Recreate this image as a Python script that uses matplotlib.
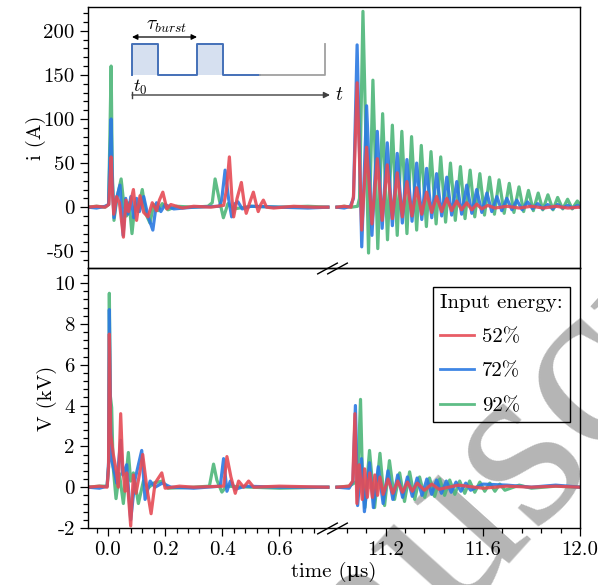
import numpy as np
import matplotlib
matplotlib.use('Agg')
import matplotlib.pyplot as plt
from matplotlib.ticker import FixedLocator, FormatStrFormatter, MultipleLocator

plt.rcParams['font.family'] = ['cmr10', 'DejaVu Serif']
plt.rcParams['mathtext.fontset'] = 'cm'
plt.rcParams['axes.unicode_minus'] = False

# ---- current, first burst window (us, A)
t_i_left_green = [-0.07, -0.04, -0.01, 0.002, 0.006, 0.011, 0.015, 0.021, 0.03, 0.046, 0.056, 0.065, 0.074,
                  0.084, 0.095, 0.105, 0.12, 0.133, 0.147, 0.16, 0.175, 0.19, 0.21, 0.24, 0.3, 0.35, 0.365,
                  0.375, 0.39, 0.404, 0.42, 0.44, 0.5, 0.6, 0.7, 0.77]
i_left_green = [0, 1, 0, 3, 70, 160, 40, -15, 8, 32, 2, -10, 5,
                -30, 5, -5, 20, -8, -18, 3, -4, 4, -3, 1, 0, 1, 5,
                32, 8, -12, 4, -2, 1, 0, 1, 0]
t_i_left_blue = [-0.07, -0.04, -0.01, 0.002, 0.006, 0.011, 0.015, 0.021, 0.03, 0.042, 0.053, 0.062, 0.07,
                 0.08, 0.09, 0.1, 0.11, 0.125, 0.14, 0.157, 0.17, 0.185, 0.2, 0.23, 0.3, 0.39, 0.398,
                 0.41, 0.422, 0.433, 0.445, 0.455, 0.47, 0.5, 0.6, 0.7, 0.77]
i_left_blue = [0, -1, 1, 3, 50, 100, 30, -12, 10, 25, -32, 10, -8,
               12, -12, 10, -5, 12, -10, -26, 5, -5, 3, -2, 0, 1, 8,
               42, 10, -11, 4, 6, -2, 1, 0, -1, 0]
t_i_left_red = [-0.07, -0.04, -0.01, 0.003, 0.007, 0.011, 0.015, 0.02, 0.03, 0.04, 0.054, 0.063, 0.072,
                0.089, 0.1, 0.112, 0.125, 0.14, 0.155, 0.17, 0.18, 0.192, 0.206, 0.22, 0.26, 0.3, 0.36,
                0.405, 0.415, 0.425, 0.434, 0.44, 0.452, 0.467, 0.478, 0.484, 0.495, 0.509, 0.52, 0.526,
                0.535, 0.544, 0.555, 0.58, 0.65, 0.72, 0.77]
i_left_red = [0, 1, 0, 3, 30, 57, 20, -8, 12, 5, -34, 8, -5,
              20, -15, 13, -6, -11, 5, -4, 8, 17, -2, 3, -1, 1, 0,
              2, 20, 57, 10, -11, 10, 28, 2, -7, 4, 17, 2, -5,
              3, 8, 0, -1, 1, 0, 0]

# ---- current, second window (us, A)
t_i_right_green = [11.0, 11.03, 11.06, 11.085, 11.093, 11.107, 11.130, 11.148, 11.168, 11.188, 11.208, 11.228,
                   11.248, 11.267, 11.288, 11.307, 11.328, 11.347, 11.368, 11.387, 11.408, 11.427, 11.447,
                   11.467, 11.487, 11.508, 11.527, 11.548, 11.567, 11.588, 11.607, 11.628, 11.648, 11.667,
                   11.688, 11.709, 11.728, 11.749, 11.768, 11.788, 11.808, 11.828, 11.847, 11.868, 11.889,
                   11.908, 11.929, 11.949, 11.968, 11.989, 12.0]
i_right_green = [0, 1, 0, 1, 10, 222, -52, 144, -47, 106, -37, 93,
                 -32, 86, -30, 80, -26, 70, -22, 63, -19, 57, -17,
                 50, -15, 46, -13, 42, -11, 38, -9, 34, -8, 31,
                 -7, 27, -6, 23, -5, 19, -4, 16, -3, 14, -3,
                 11, -2, 9, -2, 7, 3]
t_i_right_blue = [11.0, 11.03, 11.055, 11.068, 11.083, 11.102, 11.122, 11.144, 11.166, 11.186, 11.207, 11.228,
                  11.248, 11.269, 11.288, 11.309, 11.328, 11.349, 11.369, 11.390, 11.410, 11.431, 11.452,
                  11.472, 11.493, 11.513, 11.534, 11.555, 11.575, 11.596, 11.617, 11.637, 11.658, 11.678,
                  11.699, 11.720, 11.740, 11.762, 11.784, 11.805, 11.826, 11.846, 11.867, 11.887, 11.908,
                  11.929, 11.949, 11.970, 11.990, 12.0]
i_right_blue = [0, -1, 1, 10, 184, -45, 115, -32, 86, -24, 73, -21,
                61, -18, 54, -16, 50, -14, 44, -12, 38, -10, 34,
                -9, 29, -8, 25, -7, 20, -6, 16, -5, 12, -4,
                10, -3, 8, -3, 6, -2, 4, -2, 3, -2, 3,
                -1, 2, -1, 2, 0]
t_i_right_red = [11.0, 11.03, 11.058, 11.068, 11.083, 11.102, 11.122, 11.144, 11.166, 11.186, 11.207, 11.228,
                 11.248, 11.269, 11.288, 11.309, 11.328, 11.349, 11.369, 11.390, 11.410, 11.431, 11.452,
                 11.472, 11.493, 11.513, 11.534, 11.555, 11.575, 11.596, 11.62, 11.65, 11.7, 11.75, 11.8,
                 11.85, 11.9, 11.95, 12.0]
i_right_red = [0, 1, 0, 12, 141, -26, 68, -19, 55, -15, 48, -13,
               39, -11, 29, -10, 22, -8, 17, -6, 12, -5, 10,
               -4, 7, -3, 5, -3, 3.5, -2, 2, -1, 1, -1, 1,
               -1, 1, -1, 0]

# ---- voltage, first burst window (us, kV)
t_v_left_green = [-0.07, -0.03, -0.003, 0.002, 0.0047, 0.008, 0.0129, 0.018, 0.0281, 0.0398, 0.0538, 0.0713,
                  0.0795, 0.0889, 0.1064, 0.124, 0.14, 0.16, 0.19, 0.21, 0.3, 0.355, 0.3696, 0.3813, 0.3988,
                  0.415, 0.5, 0.6, 0.77]
v_left_green = [0, 0.05, 0.05, 1.0, 9.5, 4.5, 3.9, 1.0, -0.56, 0.67, -0.8, 1.7,
                0.3, 0.7, -0.8, 0.3, -0.05, 0.2, 0.3, -0.05, 0.0, 0.05, 1.13, 0.34, -0.24,
                0.05, 0.0, -0.05, 0.0]
t_v_left_blue = [-0.07, -0.03, -0.003, 0.002, 0.0047, 0.009, 0.0129, 0.0246, 0.0304, 0.0444, 0.0515, 0.0655,
                 0.0795, 0.095, 0.1181, 0.1298, 0.1474, 0.165, 0.19, 0.22, 0.3, 0.393, 0.4047, 0.4164,
                 0.4281, 0.4456, 0.48, 0.6, 0.77]
v_left_blue = [0, -0.05, 0.05, 1.2, 8.7, 3.0, 1.3, 0.6, 0.2, 2.3, 0.6, 1.1,
               -1.6, 0.4, 1.8, -0.6, 0.3, 0.0, 0.2, 0.0, -0.05, 0.05, 1.4, -0.2,
               0.3, -0.1, 0.05, 0.0, 0.0]
t_v_left_red = [-0.07, -0.03, -0.003, 0.002, 0.0047, 0.0094, 0.0187, 0.0304, 0.0363, 0.0444, 0.0515, 0.0596,
                0.0655, 0.0795, 0.0889, 0.0982, 0.1123, 0.1216, 0.1357, 0.1509, 0.1649, 0.1883, 0.2, 0.25,
                0.3, 0.405, 0.4164, 0.4304, 0.4456, 0.4573, 0.4749, 0.4924, 0.51, 0.6, 0.77]
v_left_red = [0, 0.05, 0.0, 1.0, 7.5, 2.6, 1.6, 0.67, 0.0, 3.6, 1.0, -0.2,
              0.7, -1.9, 0.6, -0.3, 0.8, 1.6, 0.0, -1.3, 0.2, 0.7, -0.05, 0.05,
              0.0, 0.05, 1.5, 0.5, -0.3, 0.3, 0.0, 0.3, 0.0, 0.05, 0.0]

# ---- voltage, second window (us, kV)
t_v_right_green = [11.0, 11.05, 11.085, 11.097, 11.105, 11.115, 11.134, 11.155, 11.177, 11.196, 11.216, 11.237,
                   11.258, 11.278, 11.299, 11.320, 11.340, 11.361, 11.381, 11.402, 11.423, 11.443, 11.464,
                   11.485, 11.505, 11.526, 11.546, 11.567, 11.588, 11.608, 11.629, 11.650, 11.670, 11.691,
                   11.75, 11.8, 11.9, 12.0]
v_right_green = [0, 0.05, 0.3, 4.3, 0.5, -1.0, 1.8, -1.0, 1.66, -0.9, 1.3, -0.6,
                 0.7, -0.7, 0.75, -0.6, 0.5, -0.5, 0.45, -0.45, 0.4, -0.4, 0.35,
                 -0.35, 0.3, -0.3, 0.3, -0.25, 0.25, -0.2, 0.2, -0.2, 0.15, -0.15,
                 0.1, -0.05, 0.05, 0.0]
t_v_right_blue = [11.0, 11.05, 11.066, 11.076, 11.085, 11.101, 11.113, 11.134, 11.15, 11.17, 11.19, 11.21,
                  11.23, 11.25, 11.27, 11.29, 11.31, 11.33, 11.35, 11.37, 11.39, 11.41, 11.43, 11.45,
                  11.47, 11.49, 11.51, 11.53, 11.55, 11.6, 11.7, 11.8, 11.9, 12.0]
v_right_blue = [0, -0.05, 0.3, 4.0, -0.9, 1.4, -1.2, 1.2, -1.0, 1.0, -0.8, 0.8,
                -0.6, 0.6, -0.5, 0.5, -0.45, 0.45, -0.4, 0.4, -0.35, 0.35, -0.3, 0.3,
                -0.25, 0.25, -0.2, 0.2, -0.15, 0.15, 0.1, 0.0, 0.1, 0.0]
t_v_right_red = [11.0, 11.05, 11.065, 11.074, 11.082, 11.092, 11.104, 11.114, 11.125, 11.135, 11.146, 11.156,
                 11.167, 11.177, 11.19, 11.21, 11.23, 11.25, 11.27, 11.29, 11.31, 11.33, 11.36, 11.39,
                 11.42, 11.5, 11.6, 11.7, 11.8, 11.9, 12.0]
v_right_red = [0, 0.05, 0.3, 3.6, -0.8, 1.1, -0.6, 0.9, -0.5, 0.7, -0.5, 0.6,
               -0.4, 0.5, -0.35, 0.4, -0.3, 0.3, -0.25, 0.25, -0.2, 0.2, -0.15, 0.15,
               -0.1, 0.1, -0.05, 0.05, 0.0, 0.05, 0.0]

energy_labels = ['52%', '72%', '92%']
colors = {'52%': '#e64b55', '72%': '#2b79e2', '92%': '#4db679'}

# broken time axis: [-0.07, 0.77] and [11.0, 12.0] share one axis
brk_t = [-1.0, 0.77, 11.0, 13.0]
brk_u = [-1.0, 0.77, 0.8016, 0.8016 + 2.0 * 0.851]


def fwd(x):
    return np.interp(x, brk_t, brk_u)


def inv(u):
    return np.interp(u, brk_u, brk_t)


W, H = 598, 585
fig = plt.figure(figsize=(W / 100, H / 100), dpi=100)
fig.patch.set_facecolor('white')

# watermark sits under everything
fig.text(490 / W, 1 - 492 / H, 'manuscript', rotation=48, fontsize=176, color='0.71',
         ha='center', va='center', rotation_mode='anchor', family='Liberation Serif', zorder=-5)

ax_i = fig.add_axes([88 / W, 1 - 268 / H, 492 / W, 261 / H])
ax_v = fig.add_axes([88 / W, 1 - 528 / H, 492 / W, 260 / H], sharex=ax_i)

series_i = [(t_i_left_green, i_left_green, t_i_right_green, i_right_green, '92%'),
            (t_i_left_blue, i_left_blue, t_i_right_blue, i_right_blue, '72%'),
            (t_i_left_red, i_left_red, t_i_right_red, i_right_red, '52%')]
series_v = [(t_v_left_green, v_left_green, t_v_right_green, v_right_green, '92%'),
            (t_v_left_blue, v_left_blue, t_v_right_blue, v_right_blue, '72%'),
            (t_v_left_red, v_left_red, t_v_right_red, v_right_red, '52%')]

handles = {}
for ax, series in ((ax_i, series_i), (ax_v, series_v)):
    ax.set_xscale('function', functions=(fwd, inv))
    ax.set_facecolor('none')
    for tl, yl, tr, yr, lab in series:
        ax.plot(tl, yl, color=colors[lab], lw=2.3, alpha=0.9)
        ln, = ax.plot(tr, yr, color=colors[lab], lw=2.3, alpha=0.9)
        handles[lab] = ln
    for sp in ax.spines.values():
        sp.set_linewidth(1.0)
    ax.tick_params(which='both', direction='out', top=False, right=False, labelsize=15, width=0.9)
    ax.tick_params(which='major', length=6)
    ax.tick_params(which='minor', length=3.5)

ax_i.set_xlim(-0.07, 12.0)
ax_i.set_ylim(-69, 227)
ax_v.set_ylim(-2.0, 10.74)

ax_i.yaxis.set_major_locator(MultipleLocator(50))
ax_i.yaxis.set_minor_locator(MultipleLocator(10))
ax_v.yaxis.set_major_locator(MultipleLocator(2))
ax_v.yaxis.set_minor_locator(MultipleLocator(0.4))
ax_i.yaxis.set_major_formatter(FormatStrFormatter('%d'))
ax_v.yaxis.set_major_formatter(FormatStrFormatter('%d'))

major_t = [0.0, 0.2, 0.4, 0.6, 11.2, 11.6, 12.0]
minor_t = list(np.round(np.arange(-0.04, 0.73, 0.04), 3)) + list(np.round(np.arange(11.04, 12.0, 0.08), 3))
ax_v.xaxis.set_major_locator(FixedLocator(major_t))
ax_v.xaxis.set_minor_locator(FixedLocator(minor_t))
ax_v.xaxis.set_major_formatter(FormatStrFormatter('%.1f'))
ax_i.tick_params(axis='x', which='both', bottom=False, labelbottom=False)

ax_i.set_ylabel('i (A)', fontsize=15, labelpad=-2)
ax_v.set_ylabel('V (kV)', fontsize=15, labelpad=-2)
ax_v.set_xlabel('time (\u03bcs)', fontsize=15, labelpad=2)
fig.align_ylabels([ax_i, ax_v])

# break marks on the shared edge and on the bottom axis
for yb in (0, 1):
    ax_v.plot([0.768, 11.0], [yb, yb], transform=ax_v.get_xaxis_transform(), ls='none',
              marker=[(-1, -0.55), (1, 0.55)], ms=15, mec='k', mew=1.0, clip_on=False, zorder=5)

leg = ax_v.legend([handles[k] for k in energy_labels], energy_labels, title='Input energy:',
                  loc='upper right', bbox_to_anchor=(0.98, 0.927), borderaxespad=0, alignment='left',
                  fontsize=15, title_fontsize=15, fancybox=False, edgecolor='k', facecolor='none',
                  framealpha=1, borderpad=0.35, labelspacing=0.75, handlelength=1.6, handletextpad=0.4)
leg.get_frame().set_linewidth(1.0)
for lh in leg.get_lines():
    lh.set_linewidth(2.0)

# burst schematic (units: pixels relative to t0)
pulse_starts = [0, 65]
pulse_width = 26
pulse_height = 31
blue_end = 128
trace_end = 193
axis_end = 198

sch = fig.add_axes([120 / W, 1 - 105 / H, 225 / W, 90 / H])
sch.set_xlim(-12, 213)
sch.set_ylim(-30, 60)
sch.axis('off')
for p in pulse_starts:
    sch.fill_between([p, p + pulse_width], 0, pulse_height, color='#d6e0f0', lw=0)
px = [0, 0, 26, 26, 65, 65, 91, 91, blue_end]
py = [0, pulse_height, pulse_height, 0, 0, pulse_height, pulse_height, 0, 0]
sch.plot(px, py, color='#4470b8', lw=1.4)
sch.plot([blue_end, trace_end, trace_end], [0, 0, pulse_height], color='#a0a0a0', lw=1.3)
sch.annotate('', xy=(pulse_starts[1], 38), xytext=(pulse_starts[0], 38),
             arrowprops=dict(arrowstyle='<|-|>', color='k', lw=0.9, mutation_scale=8, shrinkA=0, shrinkB=0))
sch.text(35, 40, r'$\tau_{burst}$', fontsize=14, ha='center', va='bottom')
sch.text(1, -3, r'$t_0$', fontsize=13, ha='left', va='top')
sch.annotate('', xy=(axis_end, -20), xytext=(0, -20),
             arrowprops=dict(arrowstyle='-|>', color='#404040', lw=1.0, mutation_scale=9, shrinkA=0, shrinkB=0))
sch.plot([0, 0], [-23, -17], color='#404040', lw=1.0)
sch.text(axis_end + 5, -20, r'$t$', fontsize=14, ha='left', va='center')

fig.savefig('out.png', dpi=100)
